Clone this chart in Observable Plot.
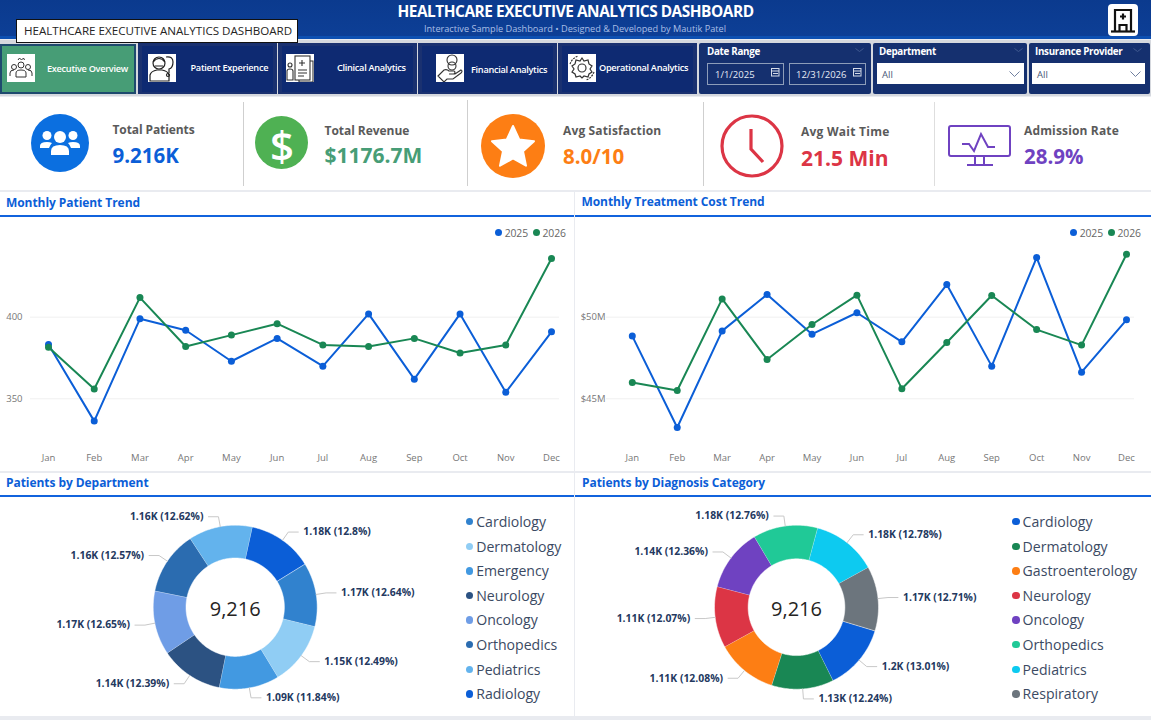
<!DOCTYPE html>
<html><head><meta charset="utf-8">
<script src="https://cdn.jsdelivr.net/npm/d3@7"></script>
<script src="https://cdn.jsdelivr.net/npm/@observablehq/plot@0.6"></script>
<style>
html,body{margin:0;padding:0;background:#e9ebf0;overflow:hidden}
#page{position:relative;width:1151px;height:720px;font-family:"Open Sans",sans-serif;overflow:hidden}
.b{position:absolute;box-sizing:border-box}
.t{position:absolute;white-space:nowrap;transform:translateY(-50%);line-height:1}
.i{position:absolute;overflow:visible}
</style></head><body><div id="page"></div>
<script>
// ---------- data ----------
const months=["Jan","Feb","Mar","Apr","May","Jun","Jul","Aug","Sep","Oct","Nov","Dec"];
const patients2025=[383.3,336.3,399,392,373,387,370,402,362,402,354,391];
const patients2026=[381.5,356,412,382,389,396,383,382,387,378,383,436];
const cost2025=[48.84,43.24,49.16,51.39,48.96,50.27,48.49,52.0,47.0,53.65,46.63,49.84];
const cost2026=[46.0,45.51,51.12,47.41,49.55,51.35,45.61,48.45,51.33,49.24,48.29,53.86];
const yearColors=["#0b5ed7","#198754"];
const deptNames=["Cardiology","Dermatology","Emergency","Neurology","Oncology","Orthopedics","Pediatrics","Radiology"];
const deptShare=[12.64,12.49,11.84,12.39,12.65,12.57,12.62,12.8];
const deptCounts=["1.17K","1.15K","1.09K","1.14K","1.17K","1.16K","1.16K","1.18K"];
const deptColors=["#3182ce","#90cdf4","#4299e1","#2c5282","#6f9de6","#2b6cb0","#63b3ed","#0b5ed7"];
const diagNames=["Cardiology","Dermatology","Gastroenterology","Neurology","Oncology","Orthopedics","Pediatrics","Respiratory"];
const diagShare=[13.01,12.24,12.08,12.07,12.36,12.76,12.78,12.71];
const diagCounts=["1.2K","1.13K","1.11K","1.11K","1.14K","1.18K","1.18K","1.17K"];
const diagColors=["#0b5ed7","#198754","#fd7e14","#dc3545","#6f42c1","#20c997","#0dcaf0","#6c757d"];
const totalPatients="9,216";

// ---------- page helpers ----------
const page=document.getElementById("page");
const FONT='"Open Sans",sans-serif';
function box(x,y,w,h,css=""){const d=document.createElement("div");d.className="b";d.style.cssText=`left:${x}px;top:${y}px;width:${w}px;height:${h}px;${css}`;page.append(d);return d}
function txt(x,y,s,css=""){const d=document.createElement("div");d.className="t";d.textContent=s;d.style.cssText=`left:${x}px;top:${y}px;${css}`;page.append(d);return d}
function icon(x,y,w,h,vb,inner){const d=document.createElement("div");d.className="i";d.style.cssText=`left:${x}px;top:${y}px;width:${w}px;height:${h}px`;d.innerHTML=`<svg width="${w}" height="${h}" viewBox="${vb}" style="display:block">${inner}</svg>`;page.append(d)}
function place(svg,x,y){svg.style.position="absolute";svg.style.left=x+"px";svg.style.top=y+"px";page.append(svg)}

// ---------- header ----------
box(0,0,1151,39,"background:linear-gradient(#0b3a8e,#0d3f96 92%,#0d50b2 93%,#0d50b2)");
txt(575.5,11.5,"HEALTHCARE EXECUTIVE ANALYTICS DASHBOARD","transform:translate(-50%,-50%);color:#fff;font-weight:700;font-size:15.4px;letter-spacing:-.46px");
txt(575,29,"Interactive Sample Dashboard • Designed & Developed by Mautik Patel","transform:translate(-50%,-50%);color:#a9bfe6;font-size:9.2px;letter-spacing:-.01px");
box(1108,4,30,32,"background:#fff;border-radius:4px");
icon(1108,4,30,32,"0 0 30 32",`<g fill="none" stroke="#111" stroke-width="2.2"><path d="M7 27V6h16v21"/><path d="M3 27.5h24"/><path d="M11.5 27v-6h7v6"/><path d="M15 9.5v6M12 12.5h6"/></g>`);

// ---------- nav ----------
box(0,40,1151,56,"background:#d5d8de");
const navCells=[[138,140],[278,140],[418,140],[558,140]];
navCells.forEach(([x,w])=>{box(x,43,w-1,51,"background:#1a3170");box(x+4,46,w-9,46,"background:#0e2a72")});
box(0,44,136,50,"background:#479d76;border:2px solid #1e4a6e");
[[698,174],[872,155.5],[1028,123]].forEach(([x,w])=>box(x+1,43,w-2,51,"background:#15306f;border-radius:2px"));
const navIcons=[
 [7,`<g fill="none" stroke="#333" stroke-width="1"><circle cx="7" cy="13" r="2.5"/><circle cx="21" cy="13" r="2.5"/><circle cx="14" cy="11" r="3"/><path d="M3 22v-3q0-3 4-3M25 22v-3q0-3-4-3M9 23v-4q0-3 5-3t5 3v4zM11 6l1.500-2 2 2 2-2 1 2"/></g>`],
 [148,`<g fill="none" stroke="#222" stroke-width="1.2"><path d="M2 27v-6q1-4 7-5h5q6 1 7 5v6z"/><circle cx="11" cy="9" r="6"/><path d="M5 8q6-7 12 0M7 12h8"/><path d="M18 3q7-1 7 5t-4 7v4"/><circle cx="20" cy="21" r="1.500"/></g>`],
 [286,`<g fill="none" stroke="#333" stroke-width="1.1"><rect x="9" y="2" width="15" height="24"/><path d="M24 7h3v21H13v-2M16 6v6M13 9h6M12 16h9M12 19h9M12 22h6"/><circle cx="4" cy="11" r="2"/><path d="M1 26v-9q0-2 3-2t3 2v9z"/></g>`],
 [436,`<g fill="none" stroke="#333" stroke-width="1.1"><circle cx="16" cy="6" r="5"/><circle cx="16" cy="12" r="4"/><path d="M2 22l6-6q3-1 5 1h5q2 1 0 3h-5 6l6-4q2 1 0 3l-8 6H11l-3 3z"/></g>`],
 [568,`<g fill="none" stroke="#333" stroke-width="1.2"><circle cx="14" cy="14" r="4"/><path d="M14 4l2 3 4-1 1 4 3 2-2 3 2 3-3 2-1 3-4-1-2 2-2-2-4 1-1-3-3-2 2-3-2-3 3-2 1-4 4 1z"/><path d="M2 10A13 13 0 0 1 10 2M26 18A13 13 0 0 1 18 26" stroke-dasharray="2 1"/></g>`]];
navIcons.forEach(([x,g])=>{box(x,54,28,28,"background:#fff");icon(x,54,28,28,"0 0 28 28",g)});
const nav=[[47,69,"Executive Overview"],[190.500,68,"Patient Experience"],[337,68,"Clinical Analytics"],[471,70,"Financial Analytics"],[599,68,"Operational Analytics"]];
nav.forEach(([x,y,s])=>txt(x,y,s,"color:#fff;font-size:9.2px;font-weight:600;letter-spacing:-.3px"));
const slicerHead="color:#fff;font-size:9.800px;font-weight:700;letter-spacing:-.3px";
txt(707,52,"Date Range",slicerHead);txt(879,52,"Department",slicerHead);txt(1035,52,"Insurance Provider",slicerHead);
const dateBox="background:#15306f;border:1px solid #8d9db9";
box(707,63,77,22,dateBox);box(789,63,77,22,dateBox);
txt(715,75,"1/1/2025","color:#e6ebf5;font-size:9.500px");txt(796,75,"12/31/2026","color:#e6ebf5;font-size:9.500px");
[771,853].forEach(x=>icon(x,68,9,9,"0 0 9 9",`<g fill="none" stroke="#d5dbe8" stroke-width="1"><rect x=".5" y=".5" width="7.500" height="7.500"/><path d="M.5 3h7.500M2 5.500h5"/></g>`));
box(877,63,147,21,"background:#fff");box(1032,63,113,21,"background:#fff");
txt(882,75,"All","color:#4a5a78;font-size:9.500px");txt(1037,75,"All","color:#4a5a78;font-size:9.500px");
[1009,1130].forEach(x=>icon(x,71,11,6,"0 0 11 6",`<path d="M.5.5l5 5 5-5" fill="none" stroke="#7080a0" stroke-width="1"/>`));
[855,1014,1133].forEach(x=>icon(x,48,9,4,"0 0 9 4",`<path d="M.5.5l4 3 4-3" fill="none" stroke="#41588f" stroke-width="1"/>`));

// ---------- KPI row ----------
box(0,97,1151,93,"background:#fff");
[[243,102,84,"#cfcfcf",1.300],[467,100,86,"#cfcfcf",1.300],[702.500,102,84,"#cfcfcf",1.300],[934,102,84,"#dedede",1]].forEach(([x,y,h,c,w])=>box(x,y,w,h,`background:${c}`));
icon(31,114,58,58,"0 0 58 58",`<circle cx="29" cy="29" r="29" fill="#0b6fe0"/><g fill="#fff"><circle cx="29" cy="23" r="6"/><circle cx="16" cy="21.500" r="4.500"/><circle cx="42" cy="21.500" r="4.500"/><path d="M20 41v-4q0-6 9-6t9 6v4z"/><path d="M9 34v-2q0-4 7-4 3 0 5 1-2 2-3 5zM49 34v-2q0-4-7-4-3 0-5 1 2 2 3 5z"/></g>`);
icon(255,116,53,53,"0 0 53 53",`<circle cx="26.500" cy="26.500" r="26.500" fill="#4fb153"/>`);
txt(282,145,"$","transform:translate(-50%,-50%);color:#fff;font-weight:600;font-size:42px");
icon(481,114,64,64,"0 0 64 64",`<circle cx="32" cy="32" r="32" fill="#fd7e14"/><path d="M32 12l6.200 13.500 14.800 1.700-11 10 3 14.500L32 44.500 19 51.700l3-14.500-11-10 14.800-1.700z" fill="#fff" stroke="#fff" stroke-width="2" stroke-linejoin="round"/>`);
icon(719.500,114,64,64,"0 0 64 64",`<circle cx="32" cy="32" r="30" fill="#fff" stroke="#dc3545" stroke-width="3.200"/><path d="M31 15v20l12 13" fill="none" stroke="#dc3545" stroke-width="3.200"/>`);
icon(948,124,63,43,"0 0 63 43",`<g fill="none" stroke="#6f42c1" stroke-width="2"><rect x="1" y="2" width="61" height="30" rx="2"/><path d="M14 20h7l5 7 7-17 7 13h7M27 32v8M36 32v8M19 41h26"/></g>`);
const kpiHead="color:#5a5a5a;font-size:12px;font-weight:700";
const kpis=[[112.500,129.500,"Total Patients",155,"9.216K","#0b5ed7",20.500,-.1],[324.500,130.500,"Total Revenue",155,"$1176.7M","#479d76",21,-.05],[563,130.500,"Avg Satisfaction",156,"8.0/10","#fd7e14",20.500,.15],[801,132,"Avg Wait Time",158,"21.5 Min","#dc3545",21,.25],[1024,130.500,"Admission Rate",156,"28.9%","#6f42c1",20.500,.15]];
kpis.forEach(([x,y,s,vy,v,c,fs,ls])=>{txt(x,y,s,kpiHead+`;letter-spacing:${ls}px`);txt(x,vy,v,`color:${c};font-size:${fs}px;font-weight:700`)});

// ---------- panels ----------
[[0,192,573.500,279],[575,192,576,279],[0,473,573.500,243],[575,473,576,243]].forEach(([x,y,w,h])=>box(x,y,w,h,"background:#fff"));
const panelHead="color:#0b5ed7;font-size:12px;font-weight:700;letter-spacing:-.06px";
txt(6,202.500,"Monthly Patient Trend",panelHead);txt(581.500,201.500,"Monthly Treatment Cost Trend",panelHead);
txt(6,482.500,"Patients by Department",panelHead);txt(582,482.500,"Patients by Diagnosis Category",panelHead);
[[0,214.500,573.500],[575,214.500,576],[0,494.500,573.500],[575,494.500,576]].forEach(([x,y,w])=>box(x,y,w,2,"background:#1163dd"));

// ---------- trend charts ----------
function trendChart(a,b,opts){
  const rows=[...months.map((m,i)=>({month:m,year:"2025",value:a[i]})),...months.map((m,i)=>({month:m,year:"2026",value:b[i]}))];
  return Plot.plot({
    width:opts.width,height:254,marginLeft:opts.left,marginRight:opts.right,marginTop:0,marginBottom:opts.bottom,
    style:{fontFamily:FONT,background:"transparent",overflow:"visible"},
    x:{type:"point",domain:months,range:opts.xr,padding:0,round:false,axis:null},
    y:{domain:opts.yd,range:[214.900,35.400],axis:null},
    color:{domain:["2025","2026"],range:yearColors},
    marks:[
      Plot.gridY(opts.ticks,{stroke:"#f0f0f0",strokeOpacity:1}),
      Plot.axisY(opts.ticks,{anchor:"left",tickSize:0,tickPadding:opts.pad,tickFormat:opts.fmt,label:null,fill:"#777",fontSize:9.500}),
      Plot.axisX({anchor:"bottom",tickSize:0,tickPadding:3.500,label:null,fill:"#777",fontSize:9.500}),
      Plot.line(rows,{x:"month",y:"value",z:"year",stroke:"year",strokeWidth:2,curve:"linear"}),
      Plot.dot(rows,{x:"month",y:"value",fill:"year",r:3.500})
    ]});
}
place(trendChart(patients2025,patients2026,{width:573,left:30,right:14,bottom:20,pad:8,xr:[48,551],yd:[330,440],ticks:[350,400],fmt:d=>String(d)}),0,216);
place(trendChart(cost2025,cost2026,{width:576,left:31,right:17,bottom:20,pad:1,xr:[56.800,551],yd:[43,54],ticks:[45,50],fmt:d=>`$${d}M`}),575,216);
function yearLegend(x){
  [["2025",0],["2026",1]].forEach(([y,i])=>{
    const ox=x+i*37.800;
    box(ox-3.500,229,7,7,`background:${yearColors[i]};border-radius:50%`);
    txt(ox+6,232.500,y,"color:#666;font-size:10.400px;letter-spacing:-.1px");
  });
}
yearLegend(498.700);yearLegend(1073.700);

// ---------- donut charts ----------
function donutChart(names,share,counts,colors,startDeg,cx,width,inner){
  const R=82,cy=110.700;
  let a=startDeg;
  const wedges=[],labels=[],leaders=[];
  names.forEach((name,i)=>{
    const a1=a+share[i]*3.6,mid=(a+a1)/2,rad=d=>d*Math.PI/180;
    const pt=(r,d)=>({name,x:r*Math.sin(rad(d)),y:r*Math.cos(rad(d))});
    const n=Math.ceil(a1-a);
    for(let k=0;k<=n;k++)wedges.push(pt(1,a+(a1-a)*k/n));
    for(let k=n;k>=0;k--)wedges.push(pt(inner,a+(a1-a)*k/n));
    const e=pt(92/82,mid),right=Math.sin(rad(mid))>=0,h=10/82*(right?1:-1);
    leaders.push(pt(1,mid),e,{name,x:e.x+h,y:e.y});
    labels.push({x:e.x,y:e.y,right,text:`${counts[i]} (${share[i]}%)`});
    a=a1;
  });
  const lab={fontSize:10.400,fontWeight:700,fill:"#24395f"};
  return Plot.plot({
    width,height:220,margin:0,
    style:{fontFamily:FONT,background:"transparent",overflow:"visible"},
    x:{domain:[-1,1],range:[cx-R,cx+R],axis:null},
    y:{domain:[-1,1],range:[cy+R,cy-R],axis:null},
    color:{domain:names,range:colors},
    marks:[
      Plot.line(wedges,{x:"x",y:"y",z:"name",fill:"name",stroke:"#fff",strokeWidth:.5,curve:"linear"}),
      Plot.line(leaders,{x:"x",y:"y",z:"name",stroke:"#c8c8c8",strokeWidth:1,curve:"linear"}),
      Plot.text(labels.filter(d=>d.right),{x:"x",y:"y",text:"text",textAnchor:"start",dx:15,...lab}),
      Plot.text(labels.filter(d=>!d.right),{x:"x",y:"y",text:"text",textAnchor:"end",dx:-15,...lab}),
      Plot.text([totalPatients],{x:()=>0,y:()=>0,text:d=>d,fontSize:20,fill:"#252423",dy:2})
    ]});
}
place(donutChart(deptNames,deptShare,deptCounts,deptColors,58.300,234.700,460,.6),0,496);
place(donutChart(diagNames,diagShare,diagCounts,diagColors,106.800,221,430,.59),575,496);
function donutLegend(names,colors,x){
  names.forEach((n,i)=>{
    const y=521.700+i*24.600;
    box(x-3.800,y-3.800,7.600,7.600,`background:${colors[i]};border-radius:50%`);
    txt(x+6.800,y+.3,n,"color:#3b4a63;font-size:14.100px");
  });
}
donutLegend(deptNames,deptColors,469.400);
donutLegend(diagNames,diagColors,1015.800);

// ---------- hover tooltip ----------
const tip=box(16,19,281.500,24,"background:#fff;border:1px solid #111");
txt(24,31,"HEALTHCARE EXECUTIVE ANALYTICS DASHBOARD","color:#252423;font-size:11.600px");
</script></body></html>
